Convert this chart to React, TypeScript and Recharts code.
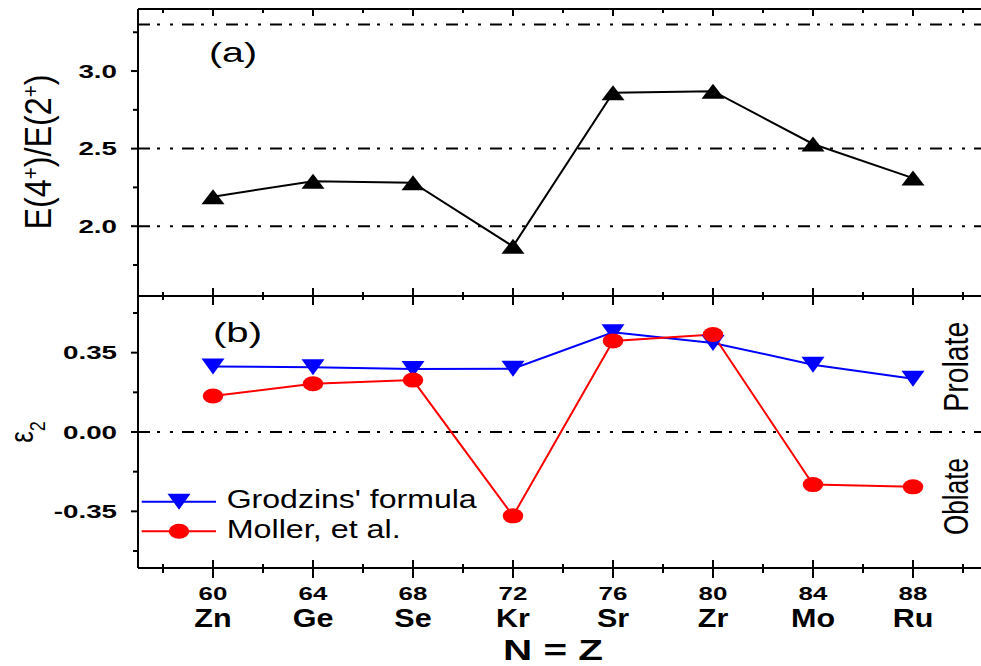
import { LineChart, Line, XAxis, YAxis, ReferenceLine, Legend } from 'recharts';

// N = Z nuclei along the x axis
const massNumbers = [60, 64, 68, 72, 76, 80, 84, 88];
const nuclei = ['Zn', 'Ge', 'Se', 'Kr', 'Sr', 'Zr', 'Mo', 'Ru'];

// (a) energy ratio E(4+)/E(2+)
const energyRatio = [2.19, 2.29, 2.28, 1.87, 2.86, 2.87, 2.53, 2.31];

// (b) quadrupole deformation eps2
const grodzinsEps2 = [0.289, 0.286, 0.278, 0.279, 0.44, 0.393, 0.297, 0.235];
const mollerEps2 = [0.159, 0.213, 0.229, -0.37, 0.402, 0.43, -0.232, -0.242];

const xTicks = [58, 60, 62, 64, 66, 68, 70, 72, 74, 76, 78, 80, 82, 84, 86, 88, 90];
const ratioTicks = [1.75, 2.0, 2.25, 2.5, 2.75, 3.0, 3.25];
const ratioGuides = [2.0, 2.5, 3.3];
const epsTicks = [-0.525, -0.35, -0.175, 0, 0.175, 0.35, 0.525];

const rows = massNumbers.map((a, i) => ({
  a,
  ratio: energyRatio[i],
  grodzins: grodzinsEps2[i],
  moller: mollerEps2[i],
}));

const FONT = '"Liberation Sans", Arial, Helvetica, sans-serif';
const INK = '#000';
const BLUE = '#0000ff';
const RED = '#ff0000';
const GUIDE_DASH = '12 7 3 10 3 9';
const axisStroke = { stroke: INK, strokeWidth: 2 };

const isMajorX = (v: number) => (v - 60) % 4 === 0;
const isMajorRatio = (v: number) => Math.abs(v * 2 - Math.round(v * 2)) < 1e-6;
const isMajorEps = (v: number) => Math.abs(v / 0.35 - Math.round(v / 0.35)) < 1e-6;

type TickProps = { x?: number; y?: number; payload?: { value: number } };

// top frame of panel (a), ticks pointing in
const TopTick = ({ x = 0, y = 0, payload }: TickProps) => {
  const len = isMajorX(payload!.value) ? 7 : 4;
  return <line x1={x} x2={x} y1={y} y2={y + len} stroke={INK} strokeWidth={2} />;
};

// edge shared by both panels, ticks cross it
const MidTick = ({ x = 0, y = 0, payload }: TickProps) => {
  const major = isMajorX(payload!.value);
  return <line x1={x} x2={x} y1={y - (major ? 8 : 4)} y2={y + (major ? 9 : 4)} stroke={INK} strokeWidth={2} />;
};

const BottomTick = ({ x = 0, y = 0, payload }: TickProps) => {
  const v = payload!.value;
  const major = isMajorX(v);
  const idx = massNumbers.indexOf(v);
  return (
    <g>
      <line x1={x} x2={x} y1={y - (major ? 8 : 4)} y2={y + (major ? 10 : 5)} stroke={INK} strokeWidth={2} />
      {major && (
        <text transform={`translate(${x} ${y + 32}) scale(1.4 1)`} textAnchor="middle"
          fontFamily={FONT} fontWeight={700} fontSize={18.5} fill={INK}>{v}</text>
      )}
      {idx >= 0 && (
        <text transform={`translate(${x} ${y + 58.5}) scale(1.22 1)`} textAnchor="middle"
          fontFamily={FONT} fontWeight={700} fontSize={25} fill={INK}>{nuclei[idx]}</text>
      )}
    </g>
  );
};

const makeLeftTick = (isMajor: (v: number) => boolean, fmt: (v: number) => string) =>
  ({ x = 0, y = 0, payload }: TickProps) => {
    const v = payload!.value;
    const major = isMajor(v);
    return (
      <g>
        <line x1={x - (major ? 7 : 5)} x2={x} y1={y} y2={y} stroke={INK} strokeWidth={2} />
        {major && (
          <text transform={`translate(${x - 21} ${y + 6.5}) scale(1.5 1)`} textAnchor="end"
            fontFamily={FONT} fontWeight={700} fontSize={18.5} fill={INK}>{fmt(v)}</text>
        )}
      </g>
    );
  };

const makeRightTick = (isMajor: (v: number) => boolean) =>
  ({ x = 0, y = 0, payload }: TickProps) => {
    const len = isMajor(payload!.value) ? 7 : 5;
    return <line x1={x - len} x2={x} y1={y} y2={y} stroke={INK} strokeWidth={2} />;
  };

const RatioLeftTick = makeLeftTick(isMajorRatio, (v) => v.toFixed(1));
const RatioRightTick = makeRightTick(isMajorRatio);
const EpsLeftTick = makeLeftTick(isMajorEps, (v) => v.toFixed(2));
const EpsRightTick = makeRightTick(isMajorEps);

// markers
const UpTriangle = ({ cx, cy }: any) => (
  <path d={`M${cx - 11.5},${cy + 7.5}L${cx + 11.5},${cy + 7.5}L${cx},${cy - 7.5}Z`} fill={INK} />
);
const DownTriangle = ({ cx, cy, fill }: any) => (
  <path d={`M${cx - 11.5},${cy - 8}L${cx + 11.5},${cy - 8}L${cx},${cy + 8}Z`} fill={fill} />
);
const Disc = ({ cx, cy, fill }: any) => <ellipse cx={cx} cy={cy} rx={10.3} ry={7.5} fill={fill} />;

const RatioTitle = () => (
  <text transform="translate(51 152) scale(1.35 1) rotate(-90)" textAnchor="middle" fontFamily={FONT}
    fontSize={27} fill={INK} textLength={155} lengthAdjust="spacingAndGlyphs">
    E(4<tspan baselineShift="super" fontSize={17}>+</tspan>)/E(2<tspan baselineShift="super" fontSize={17}>+</tspan>)
  </text>
);

const EpsTitle = () => (
  <text transform="translate(33 432) scale(1.25 1) rotate(-90)" textAnchor="middle" fontFamily={FONT}
    fontSize={26} fill={INK}>
    ε<tspan baselineShift="sub" fontSize={18}>2</tspan>
  </text>
);

const XTitle = () => (
  <text x={553} y={660} textAnchor="middle" fontFamily={FONT} fontWeight={700} fontSize={30}
    fill={INK} textLength={100} lengthAdjust="spacingAndGlyphs">N = Z</text>
);

const legendItems = [
  { name: "Grodzins' formula", color: BLUE, Marker: DownTriangle, width: 250 },
  { name: 'Moller, et al.', color: RED, Marker: Disc, width: 174 },
];

const DeformationLegend = () => (
  <svg width={420} height={70}>
    {legendItems.map(({ name, color, Marker, width }, i) => {
      const cy = 21.7 + i * 29.5;
      return (
        <g key={name}>
          <line x1={11.7} x2={86} y1={cy} y2={cy} stroke={color} strokeWidth={2} />
          <Marker cx={49} cy={cy} fill={color} />
          <text x={96.7} y={cy + 6.5} fontFamily={FONT} fontSize={25} fill={INK}
            textLength={width} lengthAdjust="spacingAndGlyphs">{name}</text>
        </g>
      );
    })}
  </svg>
);

// x axes get a 1px box: Recharts skips axes with zero height
const xAxisCommon = {
  type: 'number' as const,
  dataKey: 'a',
  domain: [57, 91],
  ticks: xTicks,
  interval: 0 as const,
  height: 1,
  tickSize: 0,
  tickMargin: 0,
  tickLine: false,
  axisLine: axisStroke,
};

const yAxisCommon = {
  type: 'number' as const,
  allowDataOverflow: true,
  interval: 0 as const,
  tickSize: 0,
  tickMargin: 0,
  tickLine: false,
  axisLine: axisStroke,
};

export default function App() {
  return (
    <div style={{ position: 'absolute', left: 0, top: 0, width: 981, height: 666, overflow: 'hidden', background: '#fff' }}>
      {/* panel (a) */}
      <div style={{ position: 'absolute', left: 0, top: 0 }}>
        <LineChart width={995} height={310} data={rows} margin={{ top: 8, right: 6, bottom: 13, left: 0 }}>
          <XAxis xAxisId="top" orientation="top" {...xAxisCommon} tick={<TopTick />} />
          <XAxis xAxisId="bottom" orientation="bottom" {...xAxisCommon} tick={<MidTick />} />
          <YAxis yAxisId="left" width={138} domain={[1.55, 3.4]} ticks={ratioTicks} {...yAxisCommon}
            tick={<RatioLeftTick />} label={<RatioTitle />} />
          <YAxis yAxisId="right" orientation="right" width={1} domain={[1.55, 3.4]} ticks={ratioTicks}
            {...yAxisCommon} tick={<RatioRightTick />} />
          {ratioGuides.map((v) => (
            <ReferenceLine key={v} xAxisId="bottom" yAxisId="left" y={v} stroke={INK}
              strokeWidth={2} strokeDasharray={GUIDE_DASH} />
          ))}
          <Line xAxisId="bottom" yAxisId="left" type="linear" dataKey="ratio" stroke={INK} strokeWidth={2}
            dot={(p: any) => <UpTriangle key={p.index} {...p} />} isAnimationActive={false} />
        </LineChart>
      </div>

      {/* panel (b) */}
      <div style={{ position: 'absolute', left: 0, top: 0 }}>
        <LineChart width={995} height={666} data={rows} margin={{ top: 295, right: 6, bottom: 97, left: 0 }}>
          <XAxis xAxisId="top" orientation="top" {...xAxisCommon} tick={false} />
          <XAxis xAxisId="bottom" orientation="bottom" {...xAxisCommon} tick={<BottomTick />} label={<XTitle />} />
          <YAxis yAxisId="left" width={138} domain={[-0.6, 0.6]} ticks={epsTicks} {...yAxisCommon}
            tick={<EpsLeftTick />} label={<EpsTitle />} />
          <YAxis yAxisId="right" orientation="right" width={1} domain={[-0.6, 0.6]} ticks={epsTicks}
            {...yAxisCommon} tick={<EpsRightTick />} />
          <ReferenceLine xAxisId="bottom" yAxisId="left" y={0} stroke={INK} strokeWidth={2}
            strokeDasharray={GUIDE_DASH} />
          <Line xAxisId="bottom" yAxisId="left" type="linear" dataKey="grodzins" name="Grodzins' formula"
            stroke={BLUE} strokeWidth={2} dot={(p: any) => <DownTriangle key={p.index} {...p} fill={BLUE} />}
            isAnimationActive={false} />
          <Line xAxisId="bottom" yAxisId="left" type="linear" dataKey="moller" name="Moller, et al."
            stroke={RED} strokeWidth={2} dot={(p: any) => <Disc key={p.index} {...p} fill={RED} />}
            isAnimationActive={false} />
          <Legend layout="horizontal" verticalAlign="middle" align="center"
            wrapperStyle={{ left: 130, top: 480, width: 420, height: 70 }} content={<DeformationLegend />} />
        </LineChart>
      </div>

      {/* panel tags and shape regions */}
      <svg width={981} height={666} style={{ position: 'absolute', left: 0, top: 0, pointerEvents: 'none' }}>
        <text x={233} y={62} textAnchor="middle" fontFamily={FONT} fontSize={28} fill={INK}
          textLength={48} lengthAdjust="spacingAndGlyphs">(a)</text>
        <text x={237.5} y={342} textAnchor="middle" fontFamily={FONT} fontSize={28} fill={INK}
          textLength={49} lengthAdjust="spacingAndGlyphs">(b)</text>
        <text transform="translate(968 366.7) scale(1.38 1) rotate(-90)" textAnchor="middle" fontFamily={FONT}
          fontSize={26} fill={INK} textLength={90} lengthAdjust="spacingAndGlyphs">Prolate</text>
        <text transform="translate(968 496.5) scale(1.38 1) rotate(-90)" textAnchor="middle" fontFamily={FONT}
          fontSize={26} fill={INK} textLength={77} lengthAdjust="spacingAndGlyphs">Oblate</text>
      </svg>
    </div>
  );
}
